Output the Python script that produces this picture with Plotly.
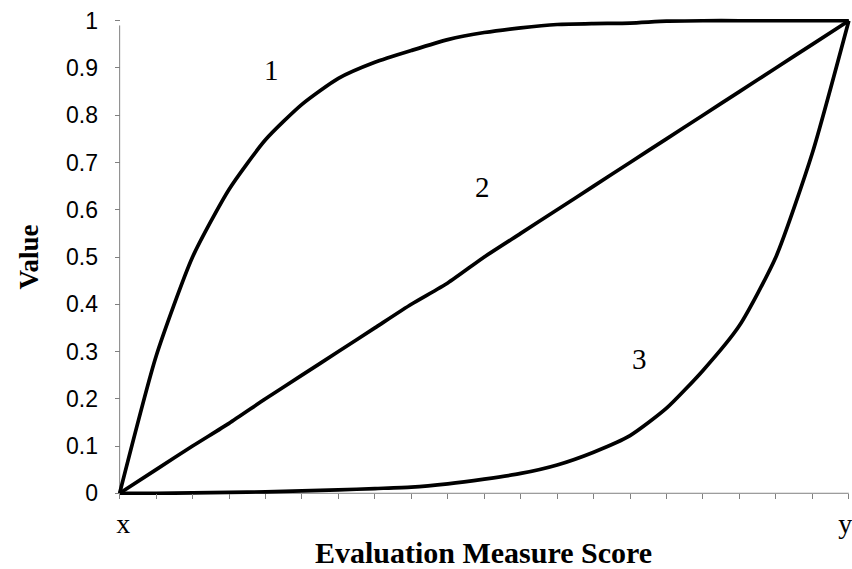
import plotly.graph_objects as go

# value curves, one point per category tick (21 ticks, x .. y)
categories = list(range(21))
curve_1 = [0, 0.29, 0.50, 0.643, 0.748, 0.823, 0.878, 0.912, 0.937, 0.96, 0.975,
           0.985, 0.992, 0.994, 0.995, 0.999, 1.0, 1.0, 1.0, 1.0, 1.0]
curve_2 = [0, 0.05, 0.10, 0.148, 0.20, 0.25, 0.30, 0.35, 0.40, 0.445, 0.50,
           0.55, 0.60, 0.65, 0.70, 0.75, 0.80, 0.85, 0.90, 0.95, 1.0]
curve_3 = [0, 0, 0.001, 0.002, 0.003, 0.005, 0.007, 0.01, 0.013, 0.02, 0.03,
           0.042, 0.06, 0.087, 0.122, 0.18, 0.26, 0.355, 0.5, 0.72, 1.0]
curve_names = ["1", "2", "3"]

x_ticktext = ["&nbsp;x"] + [""] * 19 + ["y&nbsp;"]
y_tickvals = [round(v * 0.1, 1) for v in range(11)]
y_ticktext = ["0", "0.1", "0.2", "0.3", "0.4", "0.5", "0.6", "0.7", "0.8", "0.9", "1"]

x_range = [-0.1, 20.06]
y_range = [-0.01, 1.01]

serif = "Liberation Serif, Times New Roman, serif"
sans = "Liberation Sans, Arial, sans-serif"
axis_grey = "#808080"

fig = go.Figure()
for ys in (curve_1, curve_2, curve_3):
    fig.add_trace(go.Scatter(
        x=categories, y=ys, mode="lines",
        line=dict(color="black", width=3.7, shape="spline", smoothing=0.6),
        showlegend=False, hoverinfo="skip",
    ))

# curve numbers placed inside the plot
label_spots = [(4.16, 0.896), (9.94, 0.649), (14.27, 0.285)]
for name, (lx, ly) in zip(curve_names, label_spots):
    fig.add_annotation(x=lx, y=ly, text=name, showarrow=False,
                       font=dict(family=serif, size=29, color="black"))

fig.update_layout(
    width=852, height=569,
    margin=dict(l=116, r=1, t=16, b=71),
    paper_bgcolor="white", plot_bgcolor="white",
    xaxis=dict(
        range=x_range, anchor="free", automargin=False,
        position=(0 - y_range[0]) / (y_range[1] - y_range[0]),
        tickvals=categories, ticktext=x_ticktext,
        ticks="outside", ticklen=5, tickcolor=axis_grey, tickwidth=1,
        ticklabeloverflow="allow",
        showline=False, showgrid=False, zeroline=False,
        tickfont=dict(family=serif, size=28, color="black"),
        title=dict(text="<b>Evaluation Measure Score</b>", standoff=4,
                   font=dict(family=serif, size=30, color="black")),
    ),
    yaxis=dict(
        range=y_range, anchor="free", automargin=False,
        position=(0 - x_range[0]) / (x_range[1] - x_range[0]),
        tickvals=y_tickvals, ticktext=y_ticktext,
        ticks="outside", ticklen=5, tickcolor=axis_grey, tickwidth=1,
        ticklabelstandoff=12,
        showline=False, showgrid=False, zeroline=False,
        tickfont=dict(family=sans, size=23, color="black"),
        title=dict(text="<b>Value</b>", standoff=18,
                   font=dict(family=serif, size=27, color="black")),
    ),
)

# axis lines through the origin, drawn as shapes in data coordinates
fig.add_shape(type="line", xref="x", yref="y", x0=0, x1=20, y0=0, y1=0,
              line=dict(color=axis_grey, width=1), layer="below")
fig.add_shape(type="line", xref="x", yref="y", x0=0, x1=0, y0=0, y1=0.99,
              line=dict(color=axis_grey, width=1), layer="below")

# drop the default page margin so the figure sits at the window's top-left
fig.write_html("out.html",
               config={"displayModeBar": False},
               post_script="document.body.style.margin='0';"
                           "document.body.style.overflow='hidden';")
